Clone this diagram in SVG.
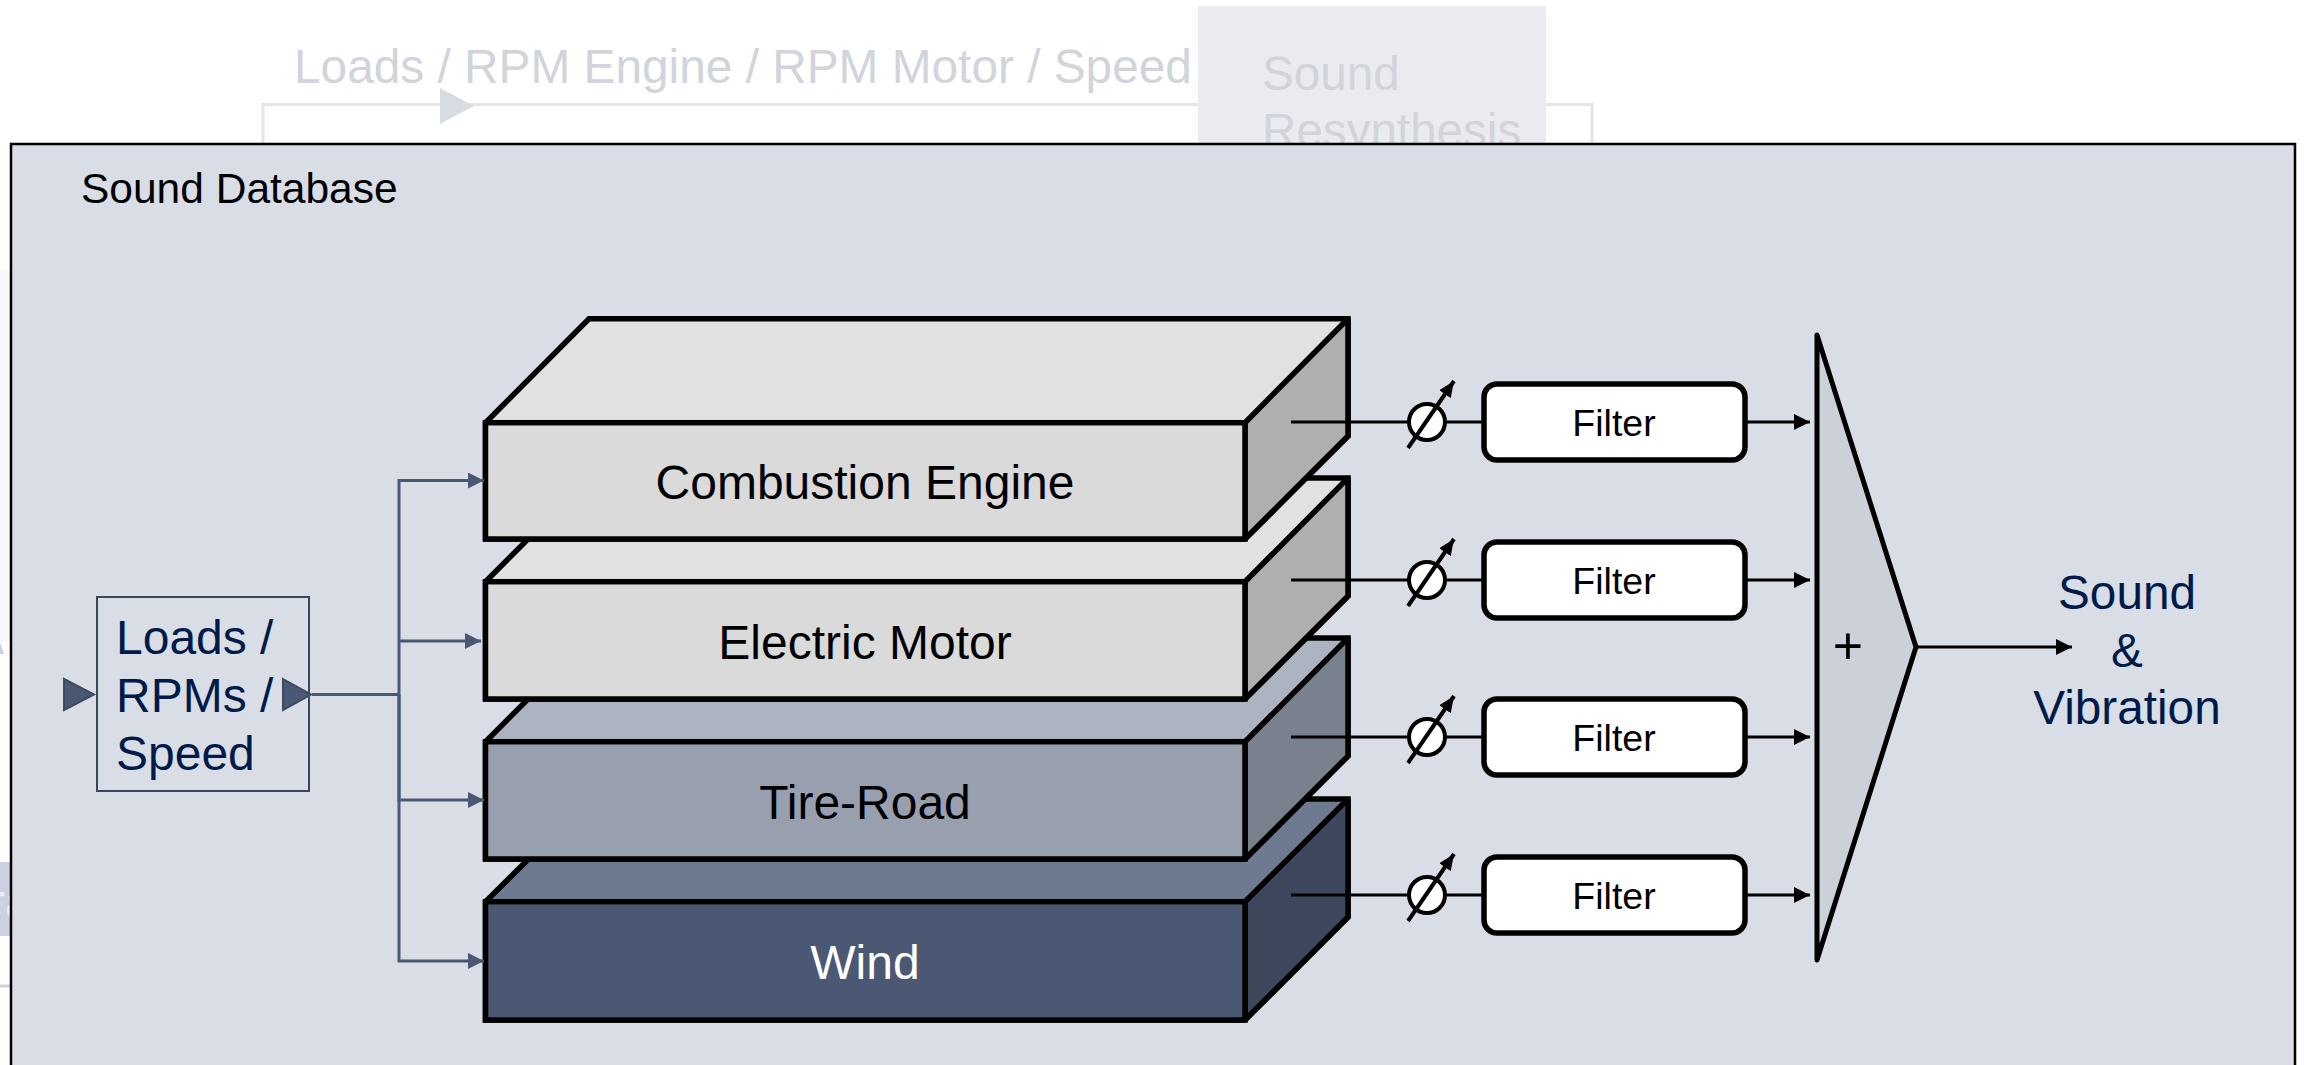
<svg xmlns="http://www.w3.org/2000/svg" width="2305" height="1065" viewBox="0 0 2305 1065">
<style>
text{font-family:"Liberation Sans",Arial,sans-serif}
.big{font-size:48px}
.navy{fill:#001a4a}
.ghost{fill:#d2d4dc}
.mid{text-anchor:middle}
.edge{stroke:#000;stroke-width:5.500;stroke-linejoin:miter;stroke-miterlimit:2}
.wire{fill:none;stroke:#000;stroke-width:3}
.slate{fill:none;stroke:#4b5873;stroke-width:3}
.filter{fill:#fff;stroke:#000;stroke-width:5.500}
.dial{fill:#fff;stroke:#000;stroke-width:4}
.needle{fill:none;stroke:#000;stroke-width:4}
.flabel{font-size:37.500px;text-anchor:middle;fill:#000}
</style>
<defs>
<marker id="ah" markerUnits="userSpaceOnUse" markerWidth="17" markerHeight="16" refX="16" refY="8" orient="auto"><path d="M0 0L16 8L0 16Z" fill="#000"/></marker>
<marker id="ahs" markerUnits="userSpaceOnUse" markerWidth="17" markerHeight="16" refX="16" refY="8" orient="auto"><path d="M0 0L16 8L0 16Z" fill="#4b5873"/></marker>
<marker id="ahn" markerUnits="userSpaceOnUse" markerWidth="17" markerHeight="14" refX="16" refY="7" orient="auto"><path d="M0 0L16 7L0 14Z" fill="#000"/></marker>
</defs>
<rect width="2305" height="1065" fill="#fff"/>
<g id="background">
<rect x="0" y="270" width="12" height="372" fill="#f7f7f7"/>
<path d="M0 642L4 654H0Z" fill="#ccd2e0"/>
<rect x="0" y="862" width="12" height="74" fill="#cbd1e0"/>
<text x="-11" y="918" class="big" fill="#eef0f5">ra</text>
<path d="M0 986H12" stroke="#d0d5e4" stroke-width="3"/>
<path d="M263 144V104.500H1592V144" fill="none" stroke="#e3e5ea" stroke-width="3"/>
<path d="M440 88L474 106L440 124Z" fill="#d9dbe2"/>
<text x="294" y="83" font-size="47.800" class="ghost">Loads / RPM Engine / RPM Motor / Speed</text>
<rect x="1198" y="6" width="348" height="138" fill="#e9ebf0"/>
<text font-size="47.600" class="ghost"><tspan x="1262" y="90">Sound</tspan><tspan x="1262" y="147">Resynthesis</tspan></text>
</g>
<g id="sound-database">
<rect x="11" y="144" width="2284" height="930" fill="#d9dde6" stroke="#000" stroke-width="2.500"/>
<text x="81" y="203" font-size="42.500" fill="#000">Sound Database</text>
</g>
<g id="input-box">
<rect x="97" y="597" width="212" height="194" fill="none" stroke="#3c475c" stroke-width="2"/>
<text class="big navy"><tspan x="116" y="654">Loads /</tspan><tspan x="116" y="712">RPMs /</tspan><tspan x="116" y="770">Speed</tspan></text>
<path d="M64 679L94 694.500L64 710Z M283 679L311 694.500L283 710Z" fill="#4b5873" stroke="#3f4a60" stroke-width="2"/>
</g>
<g id="wind">
<path class="edge" d="M485.500 901.700L589 799H1348V917L1245 1020H485.500Z" fill="#6e7a8f"/>
<path class="edge" d="M1245 901.700L1348 799V917L1245 1020Z" fill="#3d485c"/>
<rect class="edge" x="485.500" y="901.700" width="759.500" height="118.300" fill="#4b5873"/>
<text x="865" y="979" class="big mid" fill="#fff">Wind</text>
</g>
<g id="tire-road">
<path class="edge" d="M485.500 741.700L589 638H1348V756L1245 859H485.500Z" fill="#adb3c0"/>
<path class="edge" d="M1245 741.700L1348 638V756L1245 859Z" fill="#7a818e"/>
<rect class="edge" x="485.500" y="741.700" width="759.500" height="117.300" fill="#989faf"/>
<text x="865" y="819" class="big mid" fill="#000">Tire-Road</text>
</g>
<g id="electric-motor">
<path class="edge" d="M485.500 581.700L589 478H1348V596L1245 699H485.500Z" fill="#e1e1e1"/>
<path class="edge" d="M1245 581.700L1348 478V596L1245 699Z" fill="#afafaf"/>
<rect class="edge" x="485.500" y="581.700" width="759.500" height="117.300" fill="#dadada"/>
<text x="865" y="659" class="big mid" fill="#000">Electric Motor</text>
</g>
<g id="combustion-engine">
<path class="edge" d="M485.500 422.700L589 318.700H1348V436L1245 539H485.500Z" fill="#e1e1e1"/>
<path class="edge" d="M1245 422.700L1348 318.700V436L1245 539Z" fill="#afafaf"/>
<rect class="edge" x="485.500" y="422.700" width="759.500" height="116.300" fill="#dadada"/>
<text x="865" y="499" class="big mid" fill="#000">Combustion Engine</text>
</g>
<g id="connectors">
<path class="slate" d="M312 694.500H399"/>
<path class="slate" d="M399 694.500V480.500H484" marker-end="url(#ahs)"/>
<path class="slate" d="M399 641H481" marker-end="url(#ahs)"/>
<path class="slate" d="M399 694.500V800H484" marker-end="url(#ahs)"/>
<path class="slate" d="M399 694.500V961H484" marker-end="url(#ahs)"/>
<path class="wire" d="M1291 422H1482M1291 580H1482M1291 737H1482M1291 895H1482"/>
<path class="wire" d="M1747 422H1810" marker-end="url(#ah)"/>
<path class="wire" d="M1747 580H1810" marker-end="url(#ah)"/>
<path class="wire" d="M1747 737H1810" marker-end="url(#ah)"/>
<path class="wire" d="M1747 895H1810" marker-end="url(#ah)"/>
<path class="wire" d="M1916 647H2072" marker-end="url(#ah)"/>
</g>
<g id="gain-1"><circle class="dial" cx="1427" cy="422" r="18"/><path class="needle" d="M1408 448L1454 381" marker-end="url(#ahn)"/></g>
<g id="gain-2"><circle class="dial" cx="1427" cy="580" r="18"/><path class="needle" d="M1408 606L1454 539" marker-end="url(#ahn)"/></g>
<g id="gain-3"><circle class="dial" cx="1427" cy="737" r="18"/><path class="needle" d="M1408 763L1454 696" marker-end="url(#ahn)"/></g>
<g id="gain-4"><circle class="dial" cx="1427" cy="895" r="18"/><path class="needle" d="M1408 921L1454 854" marker-end="url(#ahn)"/></g>
<g id="filter-1"><rect class="filter" x="1484" y="384" width="261" height="76" rx="13"/><text x="1614" y="436" class="flabel">Filter</text></g>
<g id="filter-2"><rect class="filter" x="1484" y="542" width="261" height="76" rx="13"/><text x="1614" y="594" class="flabel">Filter</text></g>
<g id="filter-3"><rect class="filter" x="1484" y="699" width="261" height="76" rx="13"/><text x="1614" y="751" class="flabel">Filter</text></g>
<g id="filter-4"><rect class="filter" x="1484" y="857" width="261" height="76" rx="13"/><text x="1614" y="909" class="flabel">Filter</text></g>
<g id="summer">
<path d="M1817 335L1916 647L1817 960Z" fill="#cbd0d9" stroke="#000" stroke-width="5" stroke-linejoin="round"/>
<text x="1848" y="664" font-size="52" class="mid" fill="#000">+</text>
</g>
<g id="output">
<text font-size="47.700" class="navy mid"><tspan x="2127" y="609">Sound</tspan><tspan x="2127" y="667">&amp;</tspan><tspan x="2127" y="724">Vibration</tspan></text>
</g>
</svg>
